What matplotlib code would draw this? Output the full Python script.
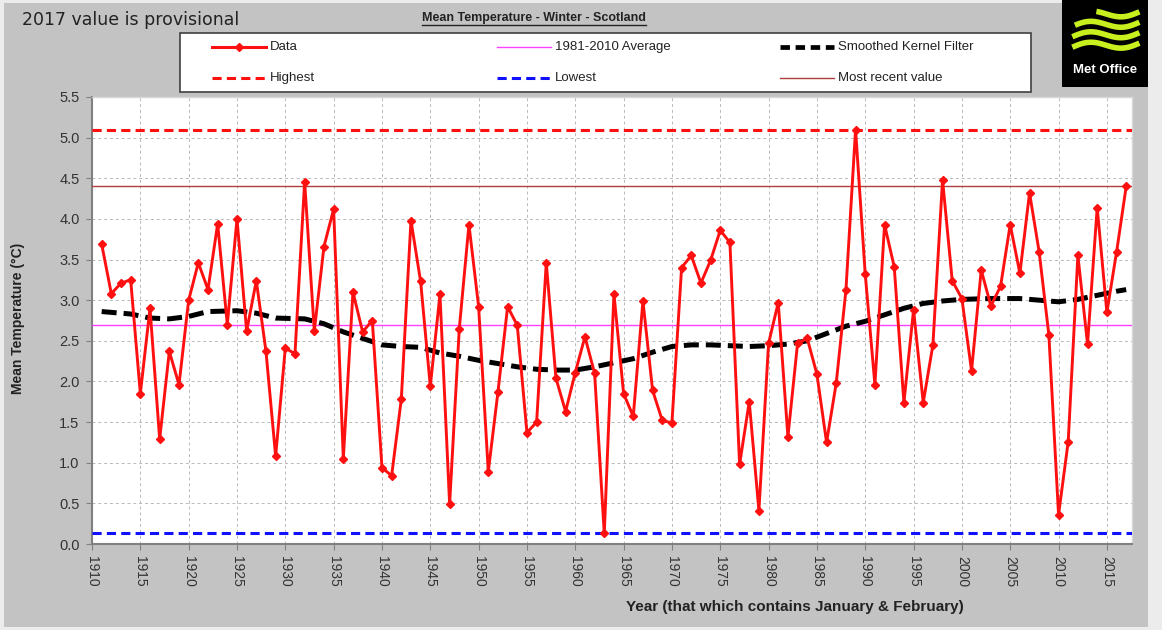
import numpy as np
import matplotlib

matplotlib.use("Agg")
import matplotlib.pyplot as plt
from matplotlib.lines import Line2D
from matplotlib.patches import Rectangle

# winter mean temperature, Scotland (year containing Jan & Feb)
years = list(range(1911, 2018))
temps = [
    3.69, 3.08, 3.21, 3.25, 1.85, 2.90, 1.29, 2.37, 1.96, 3.00,  # 1911-1920
    3.46, 3.13, 3.94, 2.70, 4.00, 2.62, 3.24, 2.37, 1.08, 2.41,  # 1921-1930
    2.34, 4.46, 2.62, 3.66, 4.12, 1.05, 3.10, 2.61, 2.75, 0.94,  # 1931-1940
    0.84, 1.78, 3.98, 3.23, 1.94, 3.07, 0.49, 2.65, 3.93, 2.92,  # 1941-1950
    0.89, 1.87, 2.92, 2.69, 1.37, 1.50, 3.46, 2.04, 1.63, 2.11,  # 1951-1960
    2.55, 2.10, 0.13, 3.08, 1.85, 1.57, 2.99, 1.89, 1.52, 1.49,  # 1961-1970
    3.40, 3.55, 3.21, 3.49, 3.86, 3.71, 0.98, 1.75, 0.41, 2.47,  # 1971-1980
    2.97, 1.32, 2.47, 2.53, 2.09, 1.25, 1.98, 3.12, 5.10, 3.32,  # 1981-1990
    1.96, 3.93, 3.41, 1.74, 2.88, 1.74, 2.45, 4.48, 3.24, 3.02,  # 1991-2000
    2.13, 3.37, 2.93, 3.17, 3.93, 3.33, 4.32, 3.59, 2.57, 0.36,  # 2001-2010
    1.26, 3.55, 2.46, 4.14, 2.85, 3.59, 4.40,                    # 2011-2017
]

# smoothed kernel filter
smooth_years = [1911, 1914, 1916, 1918, 1920, 1922, 1925, 1927, 1929, 1932,
                1934, 1936, 1938, 1940, 1942, 1944, 1946, 1948, 1950, 1952,
                1954, 1956, 1958, 1960, 1962, 1964, 1966, 1968, 1970, 1972,
                1974, 1976, 1978, 1980, 1982, 1984, 1986, 1988, 1990, 1992,
                1994, 1996, 1998, 2000, 2003, 2006, 2008, 2010, 2012, 2014,
                2016, 2017]
smooth_vals = [2.86, 2.83, 2.78, 2.77, 2.80, 2.86, 2.87, 2.84, 2.78, 2.77,
               2.71, 2.61, 2.53, 2.45, 2.43, 2.42, 2.35, 2.31, 2.26, 2.22,
               2.18, 2.15, 2.14, 2.14, 2.18, 2.23, 2.28, 2.36, 2.43, 2.45,
               2.45, 2.44, 2.43, 2.44, 2.46, 2.50, 2.59, 2.68, 2.74, 2.82,
               2.90, 2.96, 2.99, 3.01, 3.02, 3.02, 3.00, 2.98, 3.01, 3.06,
               3.11, 3.13]

average_1981_2010 = 2.70
highest = 5.10
lowest = 0.14
most_recent = 4.40

x_ticks = list(range(1910, 2016, 5))
y_ticks = [0.0, 0.5, 1.0, 1.5, 2.0, 2.5, 3.0, 3.5, 4.0, 4.5, 5.0, 5.5]

RED = "#ff1010"
BLUE = "#1010ff"
PINK = "#ff40ff"
BROWN = "#b03c3c"
DASH = (0, (3, 1.7))
KDASH = (0, (3, 1.4))

W, H = 1162, 630
plt.rcParams["font.family"] = ["Liberation Sans", "DejaVu Sans"]

fig = plt.figure(figsize=(W / 100, H / 100), dpi=100)
fig.patch.set_facecolor("#ececec")


def fx(px):
    return px / W


def fy(py):
    return 1 - py / H


bg = Rectangle((fx(4), fy(627)), fx(1144), 624 / H, transform=fig.transFigure,
               facecolor="#c3c3c3", edgecolor="none", zorder=-10)
fig.patches.append(bg)

ax = fig.add_axes([fx(92), fy(544), 1040 / W, 447 / H])
ax.set_facecolor("white")

ax.axhline(highest, color=RED, lw=2.2, ls=DASH, zorder=3)
ax.axhline(lowest, color=BLUE, lw=2.2, ls=DASH, zorder=3)
ax.axhline(average_1981_2010, color=PINK, lw=1.0, zorder=3)
ax.axhline(most_recent, color=BROWN, lw=1.0, zorder=3)
ax.plot(smooth_years, smooth_vals, color="black", lw=3.6, ls=KDASH, zorder=4)
ax.plot(years, temps, color=RED, lw=2.1, marker="D", markersize=4.5, zorder=5)

ax.set_xlim(1910, 2017.6)
ax.set_ylim(0, 5.5)
ax.set_xticks(x_ticks)
ax.set_xticklabels([str(y) for y in x_ticks], rotation=-90, fontsize=10, color="#333333")
ax.set_yticks(y_ticks)
ax.set_yticklabels([f"{v:.1f}" for v in y_ticks], fontsize=10.5, color="#333333")
ax.tick_params(axis="both", direction="out", length=4, color="#808080", pad=5)
ax.grid(True, color="#b8b8b8", lw=0.7, ls=(0, (3, 3)))
ax.set_axisbelow(True)
for side in ["left", "bottom"]:
    ax.spines[side].set_color("#808080")
    ax.spines[side].set_linewidth(1.5)
for side in ["top", "right"]:
    ax.spines[side].set_color("#d8d8d8")
    ax.spines[side].set_linewidth(1.0)

fig.text(fx(18), fy(318), "Mean Temperature (\u00b0C)", rotation=90, ha="center", va="center",
         fontsize=10, fontweight="bold", color="#222222")
fig.text(fx(795), fy(607), "Year (that which contains January & February)", ha="center", va="center",
         fontsize=11, fontweight="bold", color="#222222")
fig.text(fx(22), fy(20), "2017 value is provisional", ha="left", va="center",
         fontsize=12.5, color="#222222", family=["DejaVu Sans"])
title = fig.text(fx(534), fy(18), "Mean Temperature - Winter - Scotland", ha="center", va="center",
                 fontsize=9, fontweight="bold", color="#222222")

# legend box, drawn by hand to match the column positions
fig.patches.append(Rectangle((fx(180), fy(92)), 851 / W, 59 / H, transform=fig.transFigure,
                             facecolor="white", edgecolor="#404040", lw=1.2, zorder=6))
legend_items = [
    (212, 47, dict(color=RED, lw=2.2), "Data"),
    (212, 78, dict(color=RED, lw=2.2, ls=DASH), "Highest"),
    (497, 47, dict(color=PINK, lw=1.0), "1981-2010 Average"),
    (497, 78, dict(color=BLUE, lw=2.2, ls=DASH), "Lowest"),
    (780, 47, dict(color="black", lw=3.4, ls=(0, (2, 1.2))), "Smoothed Kernel Filter"),
    (780, 78, dict(color=BROWN, lw=1.0), "Most recent value"),
]
for x0, yy, style, label in legend_items:
    fig.lines.append(Line2D([fx(x0), fx(x0 + 54)], [fy(yy), fy(yy)], transform=fig.transFigure,
                            zorder=7, **style))
    fig.text(fx(x0 + 58), fy(yy), label, ha="left", va="center", fontsize=9.5,
             color="#222222", zorder=8)
fig.lines.append(Line2D([fx(239)], [fy(47)], transform=fig.transFigure, color=RED,
                        marker="D", markersize=4, zorder=8))

# underline for the title
fig.canvas.draw()
bb = title.get_window_extent()
fig.lines.append(Line2D([bb.x0 / W, bb.x1 / W], [(bb.y0 - 1) / H, (bb.y0 - 1) / H],
                        transform=fig.transFigure, color="#222222", lw=1.0))

# Met Office logo
lax = fig.add_axes([fx(1062), fy(87), 86 / W, 87 / H])
lax.set_facecolor("black")
lax.set_xlim(0, 1)
lax.set_ylim(0, 1)
lax.set_xticks([])
lax.set_yticks([])
for s in lax.spines.values():
    s.set_visible(False)
for base, start in [(0.84, 0.4), (0.72, 0.15), (0.60, 0.12), (0.48, 0.12)]:
    wx = np.linspace(start, 0.9, 50)
    wy = base + 0.045 * np.sin((wx - 0.12) / 0.78 * 2 * np.pi) + 0.06 * (wx - 0.5)
    lax.plot(wx, wy, color="#c8f01e", lw=4.0, solid_capstyle="butt")
lax.text(0.5, 0.2, "Met Office", color="white", ha="center", va="center",
         fontsize=9.5, fontweight="bold", family=["Liberation Sans Narrow", "Liberation Sans"])

fig.savefig("out.png", dpi=100, facecolor=fig.get_facecolor())
plt.close(fig)
